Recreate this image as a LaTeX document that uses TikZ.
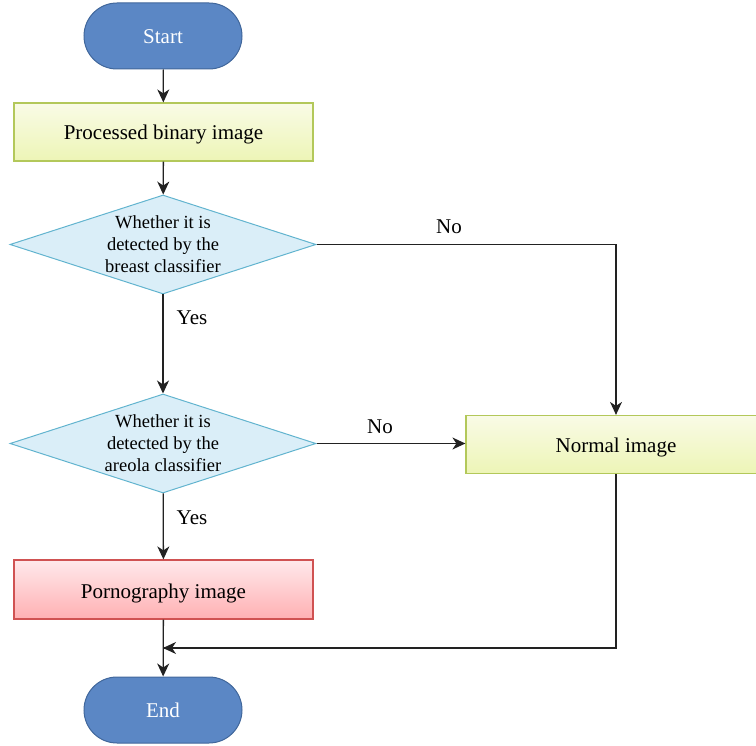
\documentclass[tikz,border=0pt]{standalone}
\usepackage{fontspec}
\setmainfont{Liberation Serif}
\usetikzlibrary{shapes.misc,shapes.geometric,arrows.meta}
\definecolor{termfill}{HTML}{5B87C5}
\definecolor{termdraw}{HTML}{41679B}
\definecolor{procdraw}{HTML}{B3C85A}
\definecolor{proctop}{HTML}{F9FBE6}
\definecolor{procbot}{HTML}{EDF5B6}
\definecolor{decfill}{HTML}{DAEEF8}
\definecolor{decdraw}{HTML}{62B4CF}
\definecolor{porntop}{HTML}{FFE9EB}
\definecolor{pornbot}{HTML}{FFB0B3}
\definecolor{porndraw}{HTML}{D05252}
\definecolor{linecol}{HTML}{222222}
\tikzset{
  terminal/.style={rounded rectangle, fill=termfill, draw=termdraw, line width=1pt,
    minimum width=158pt, minimum height=66pt, inner sep=0pt,
    text height=15pt, text depth=0pt,
    text=white, font=\fontsize{21}{24}\selectfont},
  procbox/.style={rectangle, draw=procdraw, line width=1.2pt, top color=proctop, bottom color=procbot,
    minimum height=58pt, inner sep=0pt, text height=16pt, text depth=0pt,
    font=\fontsize{21}{24}\selectfont},
  pornbox/.style={rectangle, draw=porndraw, line width=1.2pt, top color=porntop, bottom color=pornbot,
    minimum width=299pt, minimum height=59pt, inner sep=0pt, text height=18pt, text depth=0pt,
    font=\fontsize{21}{24}\selectfont},
  decision/.style={diamond, fill=decfill, draw=decdraw, line width=1pt,
    minimum width=306pt, minimum height=99pt, inner sep=0pt},
  dectext/.style={align=center, font=\fontsize{18.5}{22}\selectfont},
  flow/.style={draw=linecol, line width=1.3pt, -{Stealth[length=13pt,width=12pt,inset=4pt]}},
  flowline/.style={draw=linecol, line width=1.3pt},
  edgelabel/.style={font=\fontsize{21}{24}\selectfont, inner sep=0pt},
}
\begin{document}
\begin{tikzpicture}[x=1pt,y=-1pt]
\useasboundingbox (0,0) rectangle (756,746);

\node[terminal] (start) at (163,36) {Start};
\node[procbox, minimum width=299pt] (proc) at (163.5,132) {Processed binary image};
\node[decision, label={[dectext]center:{Whether it is\\detected by the\\breast classifier}}] (d1) at (163,244.5) {};
\node[decision, label={[dectext]center:{Whether it is\\detected by the\\areola classifier}}] (d2) at (163,443.5) {};
\node[procbox, minimum width=292pt] (normal) at (612,444.5) {\hspace*{8pt}Normal image};
\node[pornbox] (porn) at (163.5,589.5) {Pornography image};
\node[terminal] (end) at (163,710) {End};

\coordinate (c1) at (616,244.5);
\coordinate (c2) at (616,648);
\coordinate (m1) at (163,648);

\draw[flow] (start) -- (proc);
\draw[flow] (proc) -- (d1);
\draw[flow] (d1) -- (d2);
\draw[flow] (d2) -- (porn);
\draw[flow] (porn) -- (end);
\draw[flow] (d1.east) -- (c1) -- (c1 |- normal.north);
\draw[flow] (d2.east) -- (normal.west |- d2.east);
\draw[flowline] (c1 |- normal.south) -- (c2) -- (m1);
\draw[flow] (c2) -- (m1);

\node[edgelabel] (yes1) at (192,318) {Yes};
\node[edgelabel] (no1) at (449,227) {No};
\node[edgelabel] (no2) at (380,427) {No};
\node[edgelabel] (yes2) at (192,518) {Yes};
\end{tikzpicture}
\end{document}
